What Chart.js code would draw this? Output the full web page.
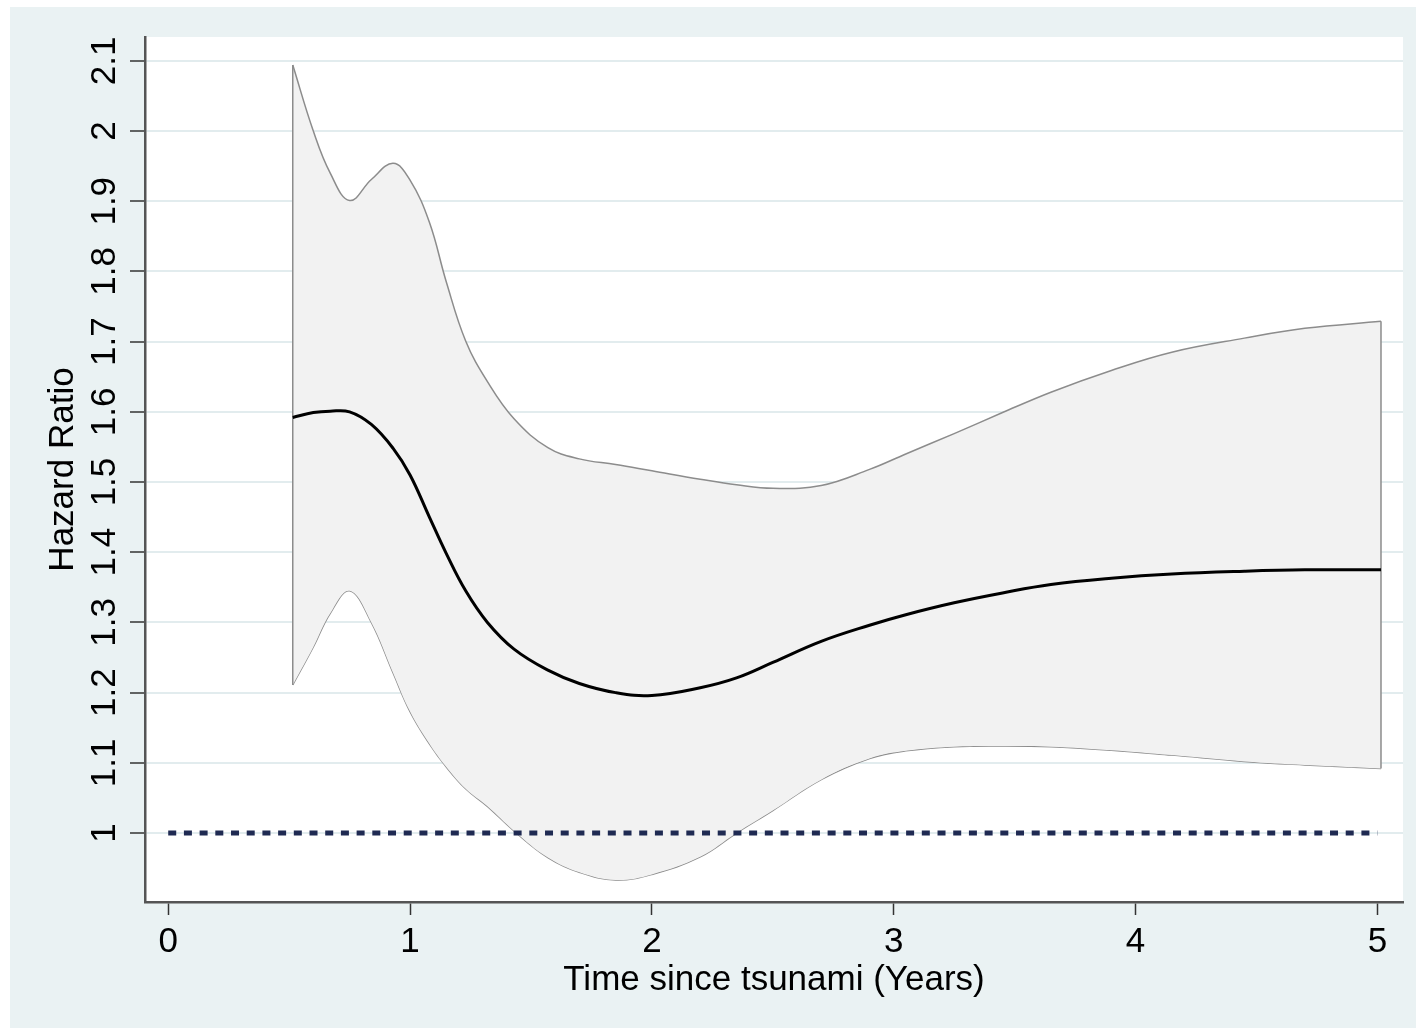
<!DOCTYPE html>
<html>
<head>
<meta charset="utf-8">
<script src="https://cdn.jsdelivr.net/npm/chart.js@4.4.1/dist/chart.umd.min.js"></script>
<style>
  body { margin: 0; background: #ffffff; }
  #wrap { position: absolute; left: 10px; top: 7px; width: 1406px; height: 1021px; background: #eaf2f3; }
</style>
</head>
<body>
<div id="wrap"><canvas id="myChart" width="1406" height="1021"></canvas></div>
<script>
// time since tsunami (years) where the curves were read
const timeX = [0.515, 0.6, 0.67, 0.75, 0.84, 0.93, 1.0, 1.08, 1.15, 1.23, 1.32, 1.43, 1.57, 1.7, 1.85,
  2.0, 2.2, 2.35, 2.5, 2.7, 2.9, 3.05, 3.25, 3.45, 3.65, 3.9, 4.15, 4.45, 4.7, 5.015];
const hazardRatio = [1.592, 1.599, 1.601, 1.600, 1.582, 1.548, 1.510, 1.450, 1.398, 1.345, 1.300, 1.262, 1.232, 1.213, 1.200,
  1.196, 1.207, 1.221, 1.243, 1.273, 1.296, 1.311, 1.328, 1.342, 1.354, 1.363, 1.369, 1.373, 1.375, 1.375];
const upperCI = [2.094, 2.000, 1.940, 1.901, 1.931, 1.954, 1.930, 1.870, 1.785, 1.701, 1.643, 1.590, 1.549, 1.533, 1.525,
  1.516, 1.504, 1.496, 1.491, 1.495, 1.518, 1.540, 1.569, 1.599, 1.628, 1.659, 1.685, 1.705, 1.719, 1.729];
const lowerCI = [1.211, 1.265, 1.313, 1.345, 1.300, 1.228, 1.173, 1.127, 1.094, 1.063, 1.038, 1.003, 0.965, 0.944, 0.933,
  0.941, 0.966, 1.000, 1.032, 1.076, 1.106, 1.117, 1.123, 1.124, 1.123, 1.118, 1.111, 1.102, 1.097, 1.092];
const refX = [0, 5];
const refY = [1, 1];
const xTicks = [0, 1, 2, 3, 4, 5];
const yTicks = [1, 1.1, 1.2, 1.3, 1.4, 1.5, 1.6, 1.7, 1.8, 1.9, 2, 2.1];

const font = '"Liberation Sans", Arial, sans-serif';
const toPts = (xs, ys) => xs.map((x, i) => ({x: x, y: ys[i]}));
const last = timeX.length - 1;

const plotBg = {
  id: 'plotBg',
  beforeDraw(chart) {
    const a = chart.chartArea;
    chart.ctx.save();
    chart.ctx.fillStyle = '#ffffff';
    chart.ctx.fillRect(a.left, a.top, a.right - a.left, a.bottom - a.top);
    chart.ctx.restore();
  }
};

// stata style vertical tick labels and axis title
const yText = {
  id: 'yText',
  afterDraw(chart) {
    const ctx = chart.ctx;
    const y = chart.scales.y;
    ctx.save();
    ctx.fillStyle = '#000';
    ctx.textAlign = 'center';
    ctx.textBaseline = 'alphabetic';
    ctx.font = '35px ' + font;
    yTicks.forEach(v => {
      ctx.save();
      ctx.translate(y.right - 30, y.getPixelForValue(v));
      ctx.rotate(-Math.PI / 2);
      ctx.fillText(String(v), 0, 0);
      ctx.restore();
    });
    const a = chart.chartArea;
    ctx.translate(63, (a.top + a.bottom) / 2);
    ctx.rotate(-Math.PI / 2);
    ctx.fillText('Hazard Ratio', 0, 0);
    ctx.restore();
  }
};

new Chart('myChart', {
  type: 'line',
  data: {
    datasets: [
      {
        data: toPts(timeX, upperCI),
        borderColor: '#8c8c8c', borderWidth: 1.5,
        backgroundColor: '#f2f2f2', fill: '+1',
        tension: 0.4, pointRadius: 0, order: 3
      },
      {
        data: toPts(timeX, lowerCI),
        borderColor: '#8c8c8c', borderWidth: 1.5, fill: false,
        tension: 0.4, pointRadius: 0, order: 3
      },
      {
        data: [{x: timeX[0], y: upperCI[0]}, {x: timeX[0], y: lowerCI[0]}],
        borderColor: '#8c8c8c', borderWidth: 1.5, fill: false, pointRadius: 0, order: 2
      },
      {
        data: [{x: timeX[last], y: upperCI[last]}, {x: timeX[last], y: lowerCI[last]}],
        borderColor: '#8c8c8c', borderWidth: 1.5, fill: false, pointRadius: 0, order: 2
      },
      {
        data: toPts(timeX, hazardRatio),
        borderColor: '#000000', borderWidth: 3, fill: false,
        tension: 0.4, pointRadius: 0, order: 1
      },
      {
        data: toPts(refX, refY),
        borderColor: '#1f2a52', borderWidth: 5, borderDash: [8, 7.7], fill: false,
        pointRadius: 0, order: 0
      }
    ]
  },
  options: {
    responsive: false,
    animation: false,
    devicePixelRatio: 1,
    layout: { padding: { left: 0, right: 13, top: 30, bottom: 0 } },
    plugins: { legend: { display: false }, tooltip: { enabled: false } },
    scales: {
      x: {
        type: 'linear', min: -0.096, max: 5.106,
        afterBuildTicks: s => { s.ticks = xTicks.map(v => ({value: v})); },
        afterFit: s => { s.height = 126; },
        grid: { drawOnChartArea: false, drawTicks: true, tickLength: 13, tickColor: '#333', tickWidth: 1.5 },
        border: { color: '#555', width: 2.5 },
        ticks: { color: '#000', font: { family: font, size: 35 }, padding: 6, maxRotation: 0 },
        title: { display: true, text: 'Time since tsunami (Years)', color: '#000',
          font: { family: font, size: 35 }, padding: { top: 0, bottom: 27 } }
      },
      y: {
        type: 'linear', min: 0.9017, max: 2.134,
        afterBuildTicks: s => { s.ticks = yTicks.map(v => ({value: v})); },
        afterFit: s => { s.width = 135; },
        grid: { color: '#e2ecee', lineWidth: 2, drawTicks: true, tickLength: 15, tickColor: '#333', tickWidth: 1.5 },
        border: { color: '#555', width: 2.5 },
        ticks: { display: false }
      }
    }
  },
  plugins: [plotBg, yText]
});
</script>
</body>
</html>
